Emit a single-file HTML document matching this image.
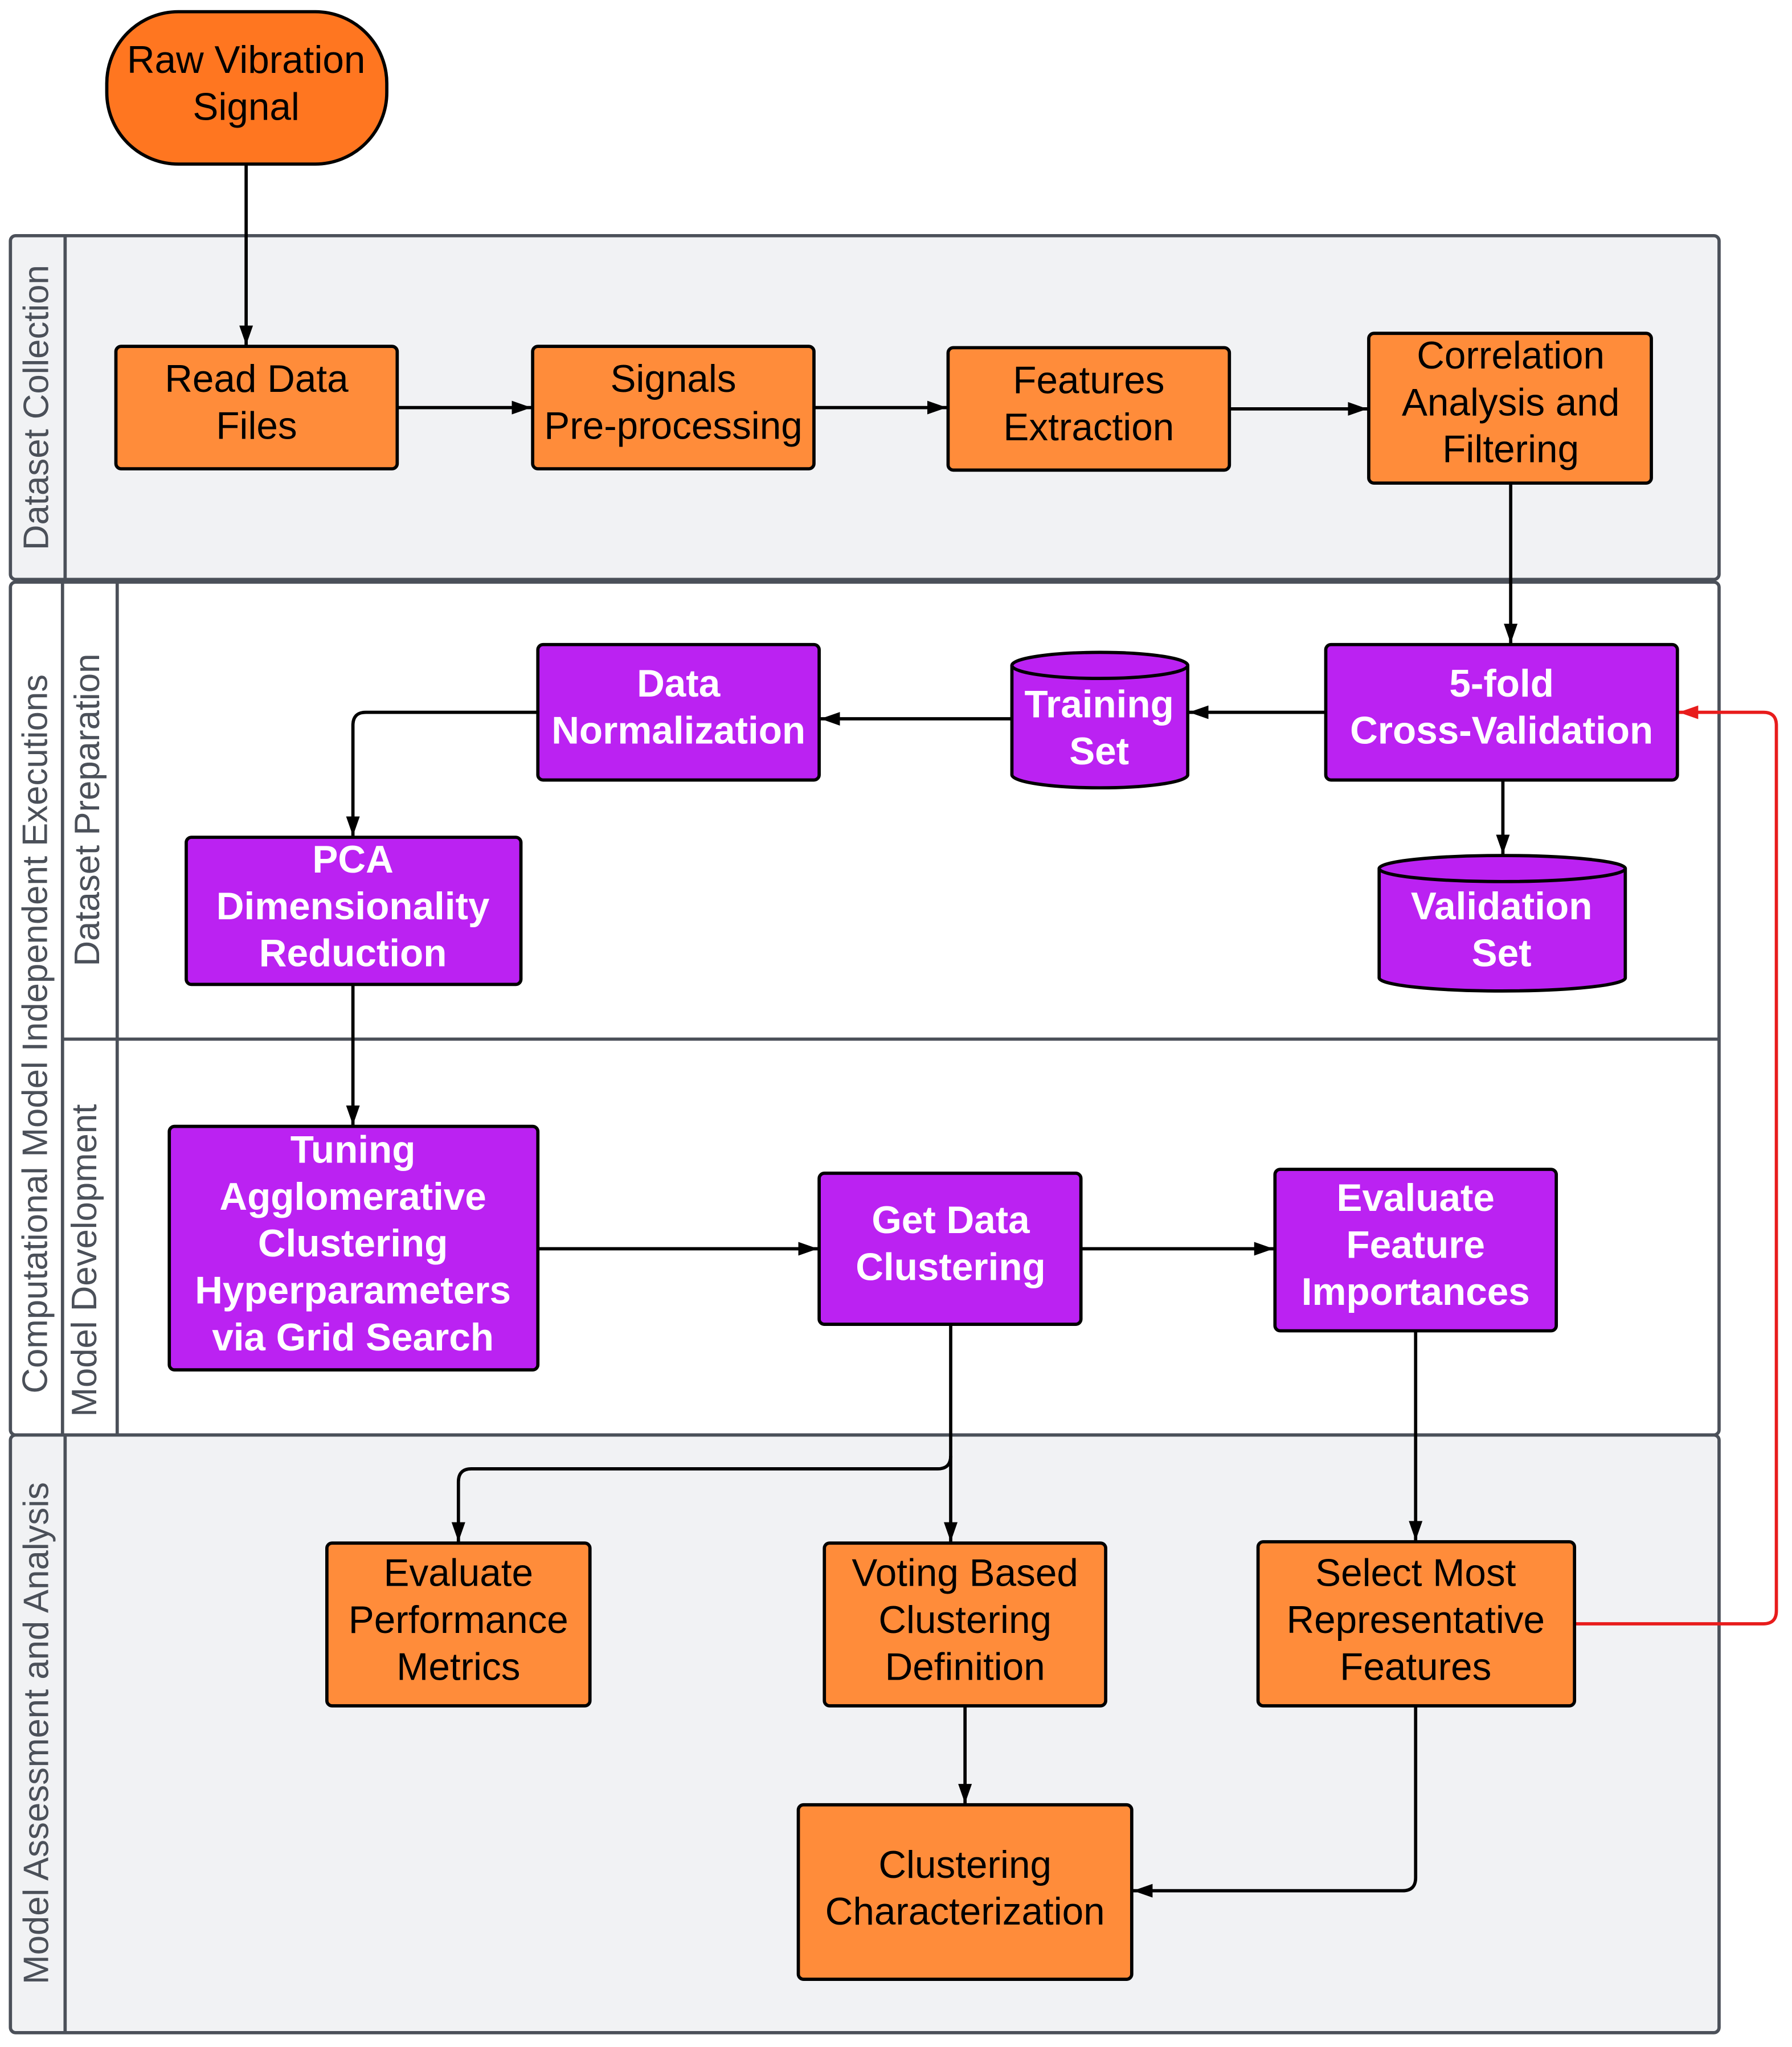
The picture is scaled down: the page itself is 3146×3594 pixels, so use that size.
<!DOCTYPE html>
<html><head><meta charset="utf-8"><style>html,body{margin:0;padding:0;background:#fff}svg{display:block}</style></head>
<body>
<svg width="3146" height="3594" viewBox="0 0 1376 1572" preserveAspectRatio="none" xmlns="http://www.w3.org/2000/svg" font-family="Liberation Sans, sans-serif">
<defs>
<marker id="a" viewBox="0 0 10 10" refX="10" refY="5" markerWidth="15" markerHeight="15" markerUnits="userSpaceOnUse" orient="auto"><path d="M0,1.5 L10,5 L0,8.5 z" fill="#000"/></marker>
<marker id="r" viewBox="0 0 10 10" refX="10" refY="5" markerWidth="15" markerHeight="15" markerUnits="userSpaceOnUse" orient="auto"><path d="M0,1.5 L10,5 L0,8.5 z" fill="#e81c1c"/></marker>
</defs>
<g stroke="#4b5059" stroke-width="2.5">
<rect x="8" y="181" width="1312" height="264" rx="4" fill="#f1f2f4"/>
<line x1="50" y1="181" x2="50" y2="445"/>
<rect x="8" y="447" width="1312" height="655" rx="4" fill="#fff"/>
<line x1="48" y1="447" x2="48" y2="1102"/>
<line x1="90" y1="447" x2="90" y2="1102"/>
<line x1="48" y1="798" x2="1320" y2="798"/>
<rect x="8" y="1102" width="1312" height="459" rx="4" fill="#f1f2f4"/>
<line x1="50" y1="1102" x2="50" y2="1561"/>
</g>
<g fill="#4b5059" font-size="27" text-anchor="middle">
<text transform="translate(37,313) rotate(-90)">Dataset Collection</text>
<text transform="translate(36,794) rotate(-90)">Computational Model Independent Executions</text>
<text transform="translate(76,622) rotate(-90)">Dataset Preparation</text>
<text transform="translate(74,968) rotate(-90)">Model Development</text>
<text transform="translate(37,1331) rotate(-90)">Model Assessment and Analysis</text>
</g>
<g stroke="#000" stroke-width="2.5" fill="none" marker-end="url(#a)">
<line x1="189" y1="126" x2="189" y2="265"/>
<line x1="305" y1="313" x2="408" y2="313"/>
<line x1="625" y1="313" x2="727" y2="313"/>
<line x1="944" y1="314" x2="1050" y2="314"/>
<line x1="1160" y1="371" x2="1160" y2="494"/>
<line x1="1018" y1="547" x2="913" y2="547"/>
<line x1="777" y1="552" x2="630" y2="552"/>
<path d="M413,547 H281 Q271,547 271,557 V642"/>
<line x1="1154" y1="599" x2="1154" y2="656"/>
<line x1="271" y1="756" x2="271" y2="864"/>
<line x1="413" y1="959" x2="628" y2="959"/>
<line x1="830" y1="959" x2="978" y2="959"/>
<line x1="730" y1="1017" x2="730" y2="1184"/>
<path d="M730,1118 Q730,1128 720,1128 H362 Q352,1128 352,1138 V1184"/>
<line x1="1087" y1="1022" x2="1087" y2="1183"/>
<line x1="741" y1="1310" x2="741" y2="1385"/>
<path d="M1087,1310 V1442 Q1087,1452 1077,1452 H870"/>
</g>
<path d="M1209,1247 H1354 Q1364,1247 1364,1237 V557 Q1364,547 1354,547 H1289" stroke="#e81c1c" stroke-width="2.5" fill="none" marker-end="url(#r)"/>
<g stroke="#000" stroke-width="2.5">
<rect x="82" y="9" width="215" height="117" rx="55" ry="55" fill="#ff7620"/>
<g fill="#ff8c3a">
<rect x="89" y="266" width="216" height="94" rx="4"/>
<rect x="409" y="266" width="216" height="94" rx="4"/>
<rect x="728" y="267" width="216" height="94" rx="4"/>
<rect x="1051" y="256" width="217" height="115" rx="4"/>
<rect x="251" y="1185" width="202" height="125" rx="4"/>
<rect x="633" y="1185" width="216" height="125" rx="4"/>
<rect x="966" y="1184" width="243" height="126" rx="4"/>
<rect x="613" y="1386" width="256" height="134" rx="4"/>
</g>
<g fill="#bb22f2">
<rect x="1018" y="495" width="270" height="104" rx="4"/>
<rect x="413" y="495" width="216" height="104" rx="4"/>
<rect x="143" y="643" width="257" height="113" rx="4"/>
<rect x="130" y="865" width="283" height="187" rx="4"/>
<rect x="629" y="901" width="201" height="116" rx="4"/>
<rect x="979" y="898" width="216" height="124" rx="4"/>
<path d="M777,511 V595 A67.5,10 0 0 0 912,595 V511 A67.5,10 0 0 0 777,511 Z"/>
<path d="M777,511 A67.5,10 0 0 0 912,511"/>
<path d="M1059,667 V751 A94.5,10 0 0 0 1248,751 V667 A94.5,10 0 0 0 1059,667 Z"/>
<path d="M1059,667 A94.5,10 0 0 0 1248,667"/>
</g>
</g>
<g font-size="29.5" text-anchor="middle" fill="#000">
<text x="189" y="56">Raw Vibration</text><text x="189" y="92">Signal</text>
<text x="197" y="301">Read Data</text><text x="197" y="337">Files</text>
<text x="517" y="301">Signals</text><text x="517" y="337">Pre-processing</text>
<text x="836" y="302">Features</text><text x="836" y="338">Extraction</text>
<text x="1160" y="283">Correlation</text><text x="1160" y="319">Analysis and</text><text x="1160" y="355">Filtering</text>
<text x="352" y="1218">Evaluate</text><text x="352" y="1254">Performance</text><text x="352" y="1290">Metrics</text>
<text x="741" y="1218">Voting Based</text><text x="741" y="1254">Clustering</text><text x="741" y="1290">Definition</text>
<text x="1087" y="1218">Select Most</text><text x="1087" y="1254">Representative</text><text x="1087" y="1290">Features</text>
<text x="741" y="1442">Clustering</text><text x="741" y="1478">Characterization</text>
</g>
<g font-size="29.5" font-weight="bold" text-anchor="middle" fill="#fff">
<text x="1153" y="535">5-fold</text><text x="1153" y="571">Cross-Validation</text>
<text x="521" y="535">Data</text><text x="521" y="571">Normalization</text>
<text x="844" y="551">Training</text><text x="844" y="587">Set</text>
<text x="1153" y="706">Validation</text><text x="1153" y="742">Set</text>
<text x="271" y="670">PCA</text><text x="271" y="706">Dimensionality</text><text x="271" y="742">Reduction</text>
<text x="271" y="893">Tuning</text><text x="271" y="929">Agglomerative</text><text x="271" y="965">Clustering</text><text x="271" y="1001">Hyperparameters</text><text x="271" y="1037">via Grid Search</text>
<text x="730" y="947">Get Data</text><text x="730" y="983">Clustering</text>
<text x="1087" y="930">Evaluate</text><text x="1087" y="966">Feature</text><text x="1087" y="1002">Importances</text>
</g>
</svg>
</body></html>
